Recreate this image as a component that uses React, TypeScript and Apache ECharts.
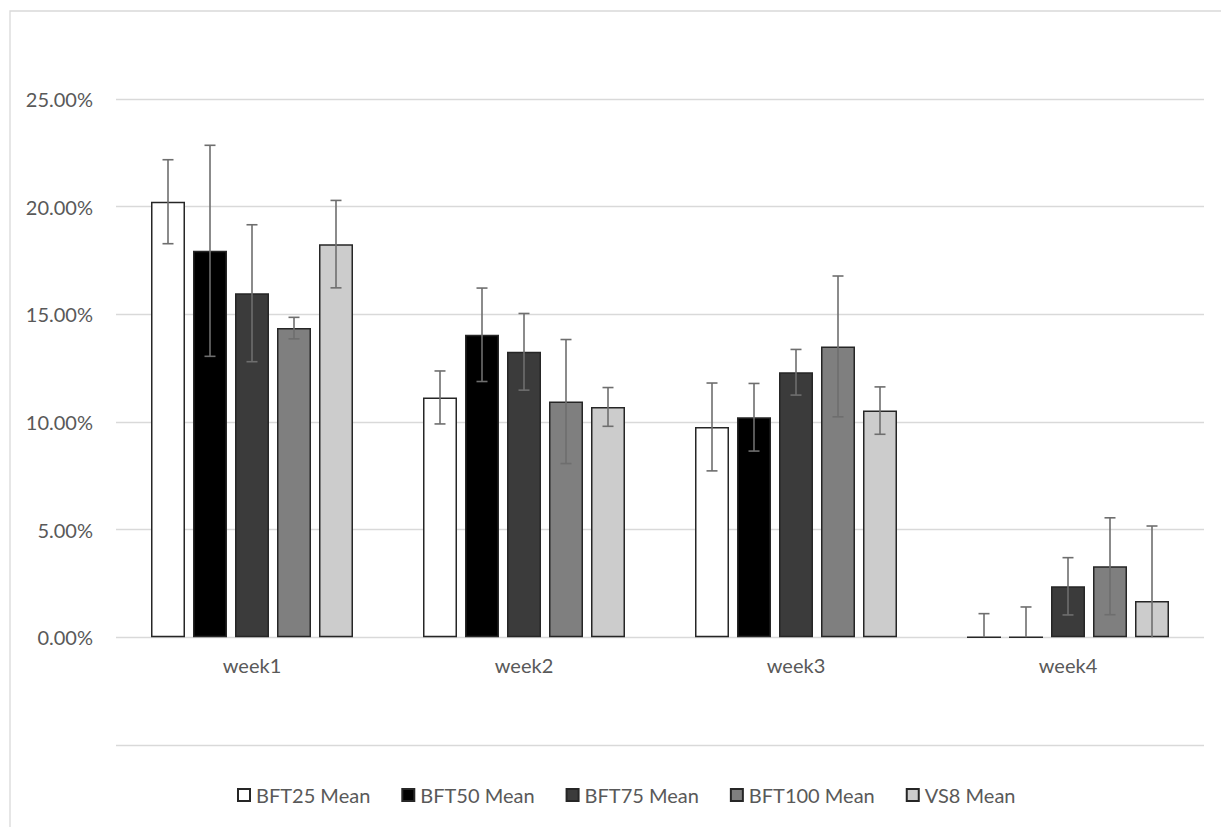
import React, { useEffect, useRef } from "react";
import * as echarts from "echarts";

const categories = ["week1", "week2", "week3", "week4"];
const seriesNames = ["BFT25 Mean", "BFT50 Mean", "BFT75 Mean", "BFT100 Mean", "VS8 Mean"];
const bft25Mean = [20.23, 11.14, 9.77, 0];
const bft50Mean = [17.95, 14.05, 10.22, 0];
const bft75Mean = [15.98, 13.26, 12.31, 2.37];
const bft100Mean = [14.36, 10.95, 13.51, 3.3];
const vs8Mean = [18.26, 10.7, 10.53, 1.69];
const bft25Err = [1.95, 1.23, 2.04, 1.1];
const bft50Err = [4.9, 2.17, 1.57, 1.41];
const bft75Err = [3.18, 1.78, 1.06, 1.33];
const bft100Err = [0.5, 2.88, 3.27, 2.25];
const vs8Err = [2.03, 0.9, 1.1, 3.48];
const yTicks = { min: -5, max: 25, interval: 5 };

const means = [bft25Mean, bft50Mean, bft75Mean, bft100Mean, vs8Mean];
const errs = [bft25Err, bft50Err, bft75Err, bft100Err, vs8Err];
const fills = ["#ffffff", "#000000", "#3b3b3b", "#7f7f7f", "#cccccc"];

const BAR_W = 34;
const BAR_GAP = 8;
const FONT = "Lato, 'Open Sans', sans-serif";
const TEXT_COLOR = "#595959";
const GRID = { left: 116, right: 17, top: 99, bottom: 82 };
const H = 827;

export default function App() {
  const ref = useRef<HTMLDivElement>(null);
  useEffect(() => {
    if (!ref.current) return;
    const chart = echarts.init(ref.current, null, { renderer: "svg" });
    const errData: number[][] = [];
    means.forEach((m, s) => {
      m.forEach((v, c) => {
        errData.push([c, s, v - errs[s][c], v + errs[s][c]]);
      });
    });
    const gridH = H - GRID.top - GRID.bottom;
    const zeroOffset = -gridH * (0 - yTicks.min) / (yTicks.max - yTicks.min);
    const barSeries = means.map((m, s) => ({
      type: "bar",
      name: seriesNames[s],
      data: m,
      barWidth: BAR_W,
      barGap: (BAR_GAP / BAR_W) * 100 + "%",
      itemStyle: { color: fills[s], borderColor: "#262626", borderWidth: 1.5 },
      z: 2,
    }));
    const option: any = {
      animation: false,
      backgroundColor: "#ffffff",
      textStyle: { fontFamily: FONT },
      graphic: [
        {
          type: "rect",
          shape: { x: 10, y: 11, width: 1400, height: 1000 },
          style: { fill: "none", stroke: "#d9d9d9", lineWidth: 1.3 },
          silent: true,
          z: -1,
        },
      ],
      grid: { ...GRID, containLabel: false },
      xAxis: {
        type: "category",
        data: categories,
        offset: zeroOffset,
        axisLine: { show: false, onZero: false },
        axisTick: { show: false },
        axisLabel: { color: TEXT_COLOR, fontSize: 20, fontFamily: FONT, margin: 18 },
        splitLine: { show: false },
      },
      yAxis: {
        type: "value",
        min: yTicks.min,
        max: yTicks.max,
        interval: yTicks.interval,
        axisLine: { show: false },
        axisTick: { show: false },
        axisLabel: {
          color: TEXT_COLOR,
          fontSize: 20,
          fontFamily: FONT,
          margin: 23,
          formatter: (v: number) => (v < -1e-9 ? "" : v.toFixed(2) + "%"),
        },
        splitLine: { lineStyle: { color: "#d9d9d9", width: 1.3 } },
      },
      legend: {
        data: seriesNames,
        left: 232,
        top: 780,
        itemWidth: 12,
        itemHeight: 12,
        itemGap: 31,
        icon: "rect",
        textStyle: { color: TEXT_COLOR, fontSize: 20, fontFamily: FONT, padding: [0, 0, 0, 1] },
      },
      series: [
        ...barSeries,
        {
          type: "custom",
          name: "err",
          data: errData,
          z: 5,
          silent: true,
          renderItem: (params: any, api: any) => {
            const c = api.value(0);
            const s = api.value(1);
            const low = api.value(2);
            const high = api.value(3);
            const x = api.coord([c, 0])[0] + (s - 2) * (BAR_W + BAR_GAP);
            const yHigh = api.coord([c, high])[1];
            const yLow = api.coord([c, Math.max(low, 0)])[1];
            const style = { stroke: "#6e6e6e", lineWidth: 1.6 };
            const children: any[] = [
              { type: "line", shape: { x1: x, y1: yLow, x2: x, y2: yHigh }, style },
              { type: "line", shape: { x1: x - 5.5, y1: yHigh, x2: x + 5.5, y2: yHigh }, style },
            ];
            if (low >= 0) {
              children.push({ type: "line", shape: { x1: x - 5.5, y1: yLow, x2: x + 5.5, y2: yLow }, style });
            }
            return { type: "group", children };
          },
        },
      ],
    };
    chart.setOption(option);
    return () => chart.dispose();
  }, []);
  return (
    <div
      ref={ref}
      style={{ position: "absolute", left: 0, top: 0, width: 1221, height: 827 }}
    />
  );
}
